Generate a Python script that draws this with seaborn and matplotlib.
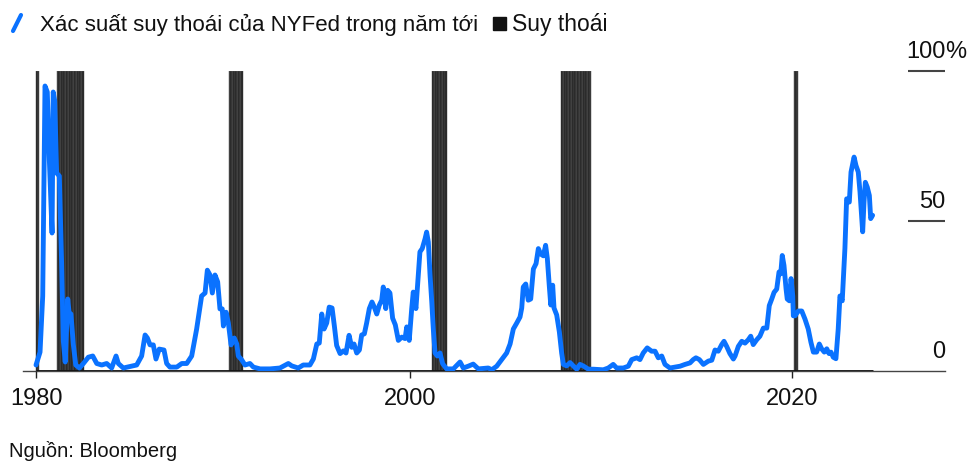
import matplotlib
matplotlib.use("Agg")
import matplotlib.pyplot as plt
from matplotlib.lines import Line2D
from matplotlib.patches import Rectangle
import seaborn as sns
import pandas as pd

sns.set_theme(style="white")
plt.rcParams["font.family"] = ["Liberation Sans", "DejaVu Sans"]

# NY Fed 12-month-ahead recession probability (%), by decimal year
years = [
    1980.42, 1980.63, 1980.77, 1980.89, 1981.01, 1981.12, 1981.26, 1981.32, 1981.40, 1981.50,
    1981.64, 1981.76, 1981.85, 1981.95, 1982.08, 1982.16, 1982.25, 1982.37, 1982.50, 1982.69,
    1982.90, 1983.16, 1983.39, 1983.60, 1983.86, 1984.12, 1984.38, 1984.61, 1984.73, 1984.99,
    1985.69, 1985.95, 1986.13, 1986.25, 1986.39, 1986.56, 1986.70, 1986.87, 1987.12, 1987.26,
    1987.43, 1987.79, 1988.05, 1988.31, 1988.57, 1988.83, 1989.09, 1989.27, 1989.39, 1989.53,
    1989.65, 1989.79, 1989.93, 1990.05, 1990.17, 1990.23, 1990.37, 1990.49, 1990.63, 1990.80,
    1990.93, 1991.01, 1991.19, 1991.36, 1991.62, 1991.80, 1992.15, 1992.67, 1993.19, 1993.63,
    1993.81, 1994.15, 1994.41, 1994.76, 1994.94, 1995.12, 1995.25, 1995.38, 1995.50, 1995.64,
    1995.77, 1995.92, 1996.04, 1996.16, 1996.34, 1996.51, 1996.65, 1996.81, 1996.95, 1997.07,
    1997.21, 1997.35, 1997.47, 1997.61, 1997.73, 1997.87, 1998.01, 1998.13, 1998.26, 1998.39,
    1998.52, 1998.60, 1998.73, 1998.83, 1998.95, 1999.09, 1999.23, 1999.39, 1999.57, 1999.74,
    1999.83, 1999.96, 2000.09, 2000.17, 2000.31, 2000.43, 2000.52, 2000.64, 2000.79, 2000.87,
    2000.96, 2001.05, 2001.14, 2001.22, 2001.31, 2001.43, 2001.57, 2001.71, 2001.92, 2002.27,
    2002.62, 2002.79, 2003.05, 2003.31, 2003.58, 2004.10, 2004.28, 2004.54, 2004.80, 2005.06,
    2005.24, 2005.41, 2005.59, 2005.76, 2005.85, 2005.93, 2006.06, 2006.19, 2006.32, 2006.46,
    2006.60, 2006.72, 2006.84, 2006.98, 2007.10, 2007.19, 2007.29, 2007.37, 2007.47, 2007.54,
    2007.68, 2007.82, 2007.94, 2008.03, 2008.20, 2008.38, 2008.55, 2008.73, 2008.90, 2009.07,
    2009.34, 2009.60, 2010.12, 2010.38, 2010.64, 2010.82, 2011.17, 2011.43, 2011.61, 2011.87,
    2012.04, 2012.21, 2012.42, 2012.65, 2012.83, 2013.00, 2013.18, 2013.35, 2013.61, 2013.87,
    2014.14, 2014.40, 2014.66, 2014.83, 2014.97, 2015.15, 2015.36, 2015.62, 2015.80, 2015.97,
    2016.14, 2016.32, 2016.44, 2016.58, 2016.75, 2016.93, 2017.02, 2017.19, 2017.37, 2017.54,
    2017.71, 2017.84, 2017.97, 2018.15, 2018.32, 2018.50, 2018.68, 2018.81, 2018.94, 2019.06,
    2019.20, 2019.32, 2019.41, 2019.49, 2019.58, 2019.69, 2019.75, 2019.86, 2019.95, 2020.04,
    2020.07, 2020.16, 2020.33, 2020.51, 2020.68, 2020.85, 2020.99, 2021.12, 2021.29, 2021.43,
    2021.55, 2021.69, 2021.82, 2021.94, 2022.04, 2022.16, 2022.30, 2022.42, 2022.51, 2022.63,
    2022.77, 2022.86, 2023.00, 2023.09, 2023.25, 2023.35, 2023.47, 2023.56, 2023.65, 2023.70,
    2023.77, 2023.84, 2023.94, 2024.05, 2024.12, 2024.22,
]
probability = [
    2.0, 6.3, 25.0, 95.0, 93.0, 70.0, 46.0, 93.0, 90.0, 66.0,
    65.0, 36.0, 10.0, 3.0, 24.0, 19.0, 19.0, 9.0, 2.0, 1.0,
    2.5, 4.6, 5.0, 2.5, 2.0, 2.5, 1.0, 5.0, 2.5, 1.0,
    2.0, 5.0, 12.0, 11.0, 8.7, 8.7, 4.0, 7.3, 7.0, 2.5,
    1.3, 1.3, 2.5, 2.5, 5.0, 14.0, 25.0, 26.0, 33.6, 32.0,
    26.0, 32.0, 29.7, 20.7, 20.7, 15.0, 19.6, 16.0, 8.7, 11.0,
    9.0, 5.0, 3.7, 2.0, 2.5, 1.3, 0.7, 0.7, 1.0, 2.5,
    1.7, 1.0, 2.0, 2.0, 4.0, 9.0, 9.3, 19.0, 14.0, 16.0,
    21.3, 21.0, 15.0, 8.5, 5.8, 6.7, 6.0, 11.9, 7.9, 9.0,
    6.0, 7.0, 12.0, 12.4, 16.0, 20.8, 23.0, 21.3, 19.0, 21.9,
    23.6, 28.0, 20.8, 26.9, 26.0, 17.6, 15.4, 10.2, 11.3, 10.8,
    14.7, 10.2, 20.8, 26.3, 20.8, 31.9, 39.7, 40.8, 44.1, 46.3,
    43.0, 31.9, 23.0, 14.0, 6.0, 5.0, 6.0, 2.4, 0.7, 0.7,
    3.0, 1.0, 1.6, 2.3, 0.7, 1.0, 0.4, 1.6, 3.8, 6.0,
    9.0, 14.0, 16.0, 18.0, 21.0, 28.0, 29.0, 23.6, 24.0, 34.0,
    35.8, 40.8, 39.0, 38.4, 41.9, 37.5, 28.6, 22.0, 28.6, 21.0,
    18.7, 13.0, 6.0, 2.2, 1.7, 2.8, 1.7, 0.6, 2.2, 1.7,
    0.6, 0.6, 0.4, 1.0, 2.2, 1.0, 1.0, 1.6, 3.8, 4.4,
    3.8, 6.0, 7.7, 6.6, 6.6, 4.4, 5.0, 2.2, 1.0, 1.3,
    1.6, 2.2, 2.7, 3.8, 4.4, 3.8, 2.2, 3.3, 3.6, 7.0,
    6.6, 8.8, 9.9, 8.2, 5.8, 4.0, 5.0, 8.2, 9.9, 9.3,
    10.4, 11.6, 8.8, 10.4, 11.6, 14.3, 14.3, 21.8, 24.0, 26.2,
    27.3, 33.0, 32.4, 38.5, 35.2, 27.3, 24.0, 23.4, 30.8, 25.0,
    18.4, 18.4, 20.0, 20.0, 17.3, 14.0, 9.6, 6.3, 6.3, 9.0,
    7.4, 6.3, 7.4, 5.8, 6.3, 4.6, 4.1, 14.0, 25.0, 23.4,
    40.8, 57.4, 56.3, 66.3, 71.3, 68.5, 66.3, 59.7, 50.8, 46.4,
    56.3, 62.9, 61.3, 58.5, 50.8, 51.9,
]

# NBER recessions, peak month to trough month
recession_start = ["1980-01", "1981-07", "1990-07", "2001-03", "2007-12", "2020-02"]
recession_end = ["1980-07", "1982-11", "1991-03", "2001-11", "2009-06", "2020-04"]

x_tick_labels = ["1980", "2000", "2020"]
y_ticks = [0, 50, 100]
y_tick_labels = ["0", "50", "100"]

line_label = "Xác suất suy thoái của NYFed trong năm tới"
recession_label = "Suy thoái"
source_text = "Nguồn: Bloomberg"

BLUE = "#0a72ff"
W, H = 975, 471

df = pd.DataFrame({"year": years, "probability": probability})

# one bar per recession month, clipped to the start of the series
months = []
for s, e in zip(recession_start, recession_end):
    for p in pd.period_range(s, e, freq="M"):
        left = p.year + (p.month - 1) / 12
        if left + 1 / 12 > years[0] + 0.001:
            months.append(max(left, years[0] - 0.003))
rec = pd.DataFrame({"month": months, "flag": [100] * len(months)})

fig = plt.figure(figsize=(W / 100, H / 100), dpi=100)
ax = fig.add_axes([23 / W, 1 - 371 / H, (945 - 23) / W, 300 / H])

ax.bar(rec["month"], rec["flag"], width=1 / 12, align="edge",
       color="#1c1c1c", edgecolor="#5a5a5a", linewidth=0.35, zorder=1)

ax.hlines(0, years[0], years[-1], color="#111111", linewidth=2.0, zorder=2)

sns.lineplot(data=df, x="year", y="probability", ax=ax, color=BLUE,
             linewidth=3.5, zorder=3, solid_capstyle="round",
             solid_joinstyle="round", sort=False)

ax.set_xlim(2000 + (23 - 410) / 19.1, 2000 + (945 - 410) / 19.1)
ax.set_ylim(0, 100)
ax.set_xlabel("")
ax.set_ylabel("")

for side in ("top", "right", "left"):
    ax.spines[side].set_visible(False)
ax.spines["bottom"].set_color("#444444")
ax.spines["bottom"].set_linewidth(1.0)
ax.spines["bottom"].set_zorder(0)

ax.set_xticks([years[0], 2000, 2020])
ax.set_xticklabels(x_tick_labels)
ax.tick_params(axis="x", direction="out", length=5, width=1, color="#222222",
               pad=7, labelsize=17, labelcolor="#111111", bottom=True)
ax.set_yticks([])

# right-side value labels with short underlines
yx = ax.get_yaxis_transform()
x0 = (908 - 23) / (945 - 23)
for v, lab in zip(y_ticks, y_tick_labels):
    if v > 0:
        ax.hlines(v, x0, 1.0005, transform=yx, color="#444444",
                  linewidth=1.5, clip_on=False)
    ax.annotate(lab, xy=(1.0005, v), xycoords=yx, xytext=(0, 9.5),
                textcoords="offset points", ha="right", va="baseline",
                fontsize=17, color="#111111", annotation_clip=False)
ax.annotate("%", xy=(1.0005, y_ticks[-1]), xycoords=yx, xytext=(0, 9.5),
            textcoords="offset points", ha="left", va="baseline",
            fontsize=17, color="#111111", annotation_clip=False)

# legend
fig.add_artist(Line2D([13 / W, 21 / W], [1 - 31 / H, 1 - 15 / H],
                      transform=fig.transFigure, color=BLUE, linewidth=3,
                      solid_capstyle="round"))
fig.text(40 / W, 1 - 31 / H, line_label, fontsize=16, color="#111111",
         ha="left", va="baseline")
fig.add_artist(Rectangle((493 / W, 1 - 30 / H), 13 / W, 13 / H,
                         transform=fig.transFigure, color="#111111"))
fig.text(512 / W, 1 - 31 / H, recession_label, fontsize=16.5, color="#111111",
         ha="left", va="baseline")

fig.text(9 / W, 1 - 457 / H, source_text, fontsize=14.5, color="#111111",
         ha="left", va="baseline")

fig.savefig("out.png", dpi=100)
